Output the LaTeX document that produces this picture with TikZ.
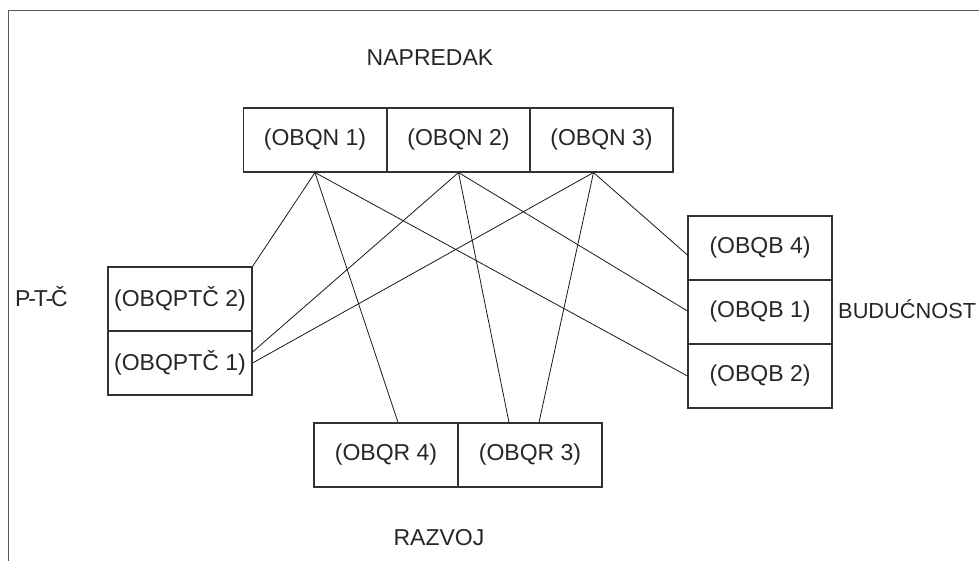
\documentclass[tikz,border=0pt]{standalone}
\usepackage{fontspec}
\setmainfont{Liberation Sans}
\begin{document}
\begin{tikzpicture}[x=1pt,y=-1pt,
  box/.style={draw=black!80, line width=1.1pt, minimum width=143pt, minimum height=64pt, inner sep=0pt, font=\fontsize{23}{27}\selectfont, text=black!85},
  lbl/.style={inner sep=0pt, font=\fontsize{23}{27}\selectfont, text=black!85},
  conn/.style={draw=black!90, line width=0.8pt}]
\useasboundingbox (0,0) rectangle (979,561);
\draw[black!65, line width=1.6pt] (8.5,561) -- (8.5,10.5) -- (979,10.5);
% top boxes
\node[box] (n1) at (315,140) {(OBQN 1)};
\node[box] (n2) at (458.5,140) {(OBQN 2)};
\node[box] (n3) at (601.5,140) {(OBQN 3)};
% left boxes
\node[box, minimum width=144pt] (p2) at (180,299) {(OBQPTČ 2)};
\node[box, minimum width=144pt] (p1) at (180,363) {(OBQPTČ 1)};
% right boxes
\node[box, minimum width=144pt] (b4) at (760,248) {(OBQB 4)};
\node[box, minimum width=144pt] (b1) at (760,312) {(OBQB 1)};
\node[box, minimum width=144pt] (b2) at (760,376) {(OBQB 2)};
% bottom boxes
\node[box, minimum width=144pt] (r4) at (386,455) {(OBQR 4)};
\node[box, minimum width=144pt] (r3) at (530,455) {(OBQR 3)};
% labels
\node[lbl] (tN) at (430,58) {NAPREDAK};
\node[lbl, anchor=west] (tP) at (15,297) {P\kern-2.2pt-\kern-2.2pt T\kern-2.2pt-\kern-2.2pt Č};
\node[lbl, anchor=west, font=\fontsize{21.8}{26}\selectfont] (tB) at (838,309) {BUDUĆNOST};
\node[lbl] (tR) at (439,538) {RAZVOJ};
% connectors
\draw[conn] (n1.south) -- (p2.north east);
\draw[conn] (n1.south) -- ([xshift=12pt]r4.north);
\draw[conn] (n1.south) -- (b2.west);
\draw[conn] (n2.south) -- ([yshift=11pt]p1.east);
\draw[conn] (n2.south) -- ([xshift=-21pt]r3.north);
\draw[conn] (n2.south) -- ([yshift=1pt]b1.west);
\draw[conn] ([xshift=-8pt]n3.south) -- (p1.east);
\draw[conn] ([xshift=-8pt]n3.south) -- ([xshift=9pt]r3.north);
\draw[conn] ([xshift=-8pt]n3.south) -- ([yshift=-7pt]b4.west);
\end{tikzpicture}
\end{document}
